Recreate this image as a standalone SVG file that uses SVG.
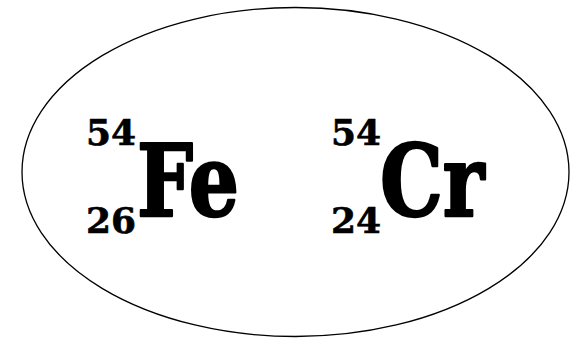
<svg xmlns="http://www.w3.org/2000/svg" width="570" height="338" viewBox="0 0 570 338">
<style>
.sym{font-family:"DejaVu Serif","Liberation Serif",serif;font-weight:bold;font-size:100px;fill:#000;stroke:#000;stroke-width:2.5;stroke-linejoin:round}
.num{font-family:"DejaVu Serif","Liberation Serif",serif;font-weight:bold;font-size:36px;fill:#000;stroke:#000;stroke-width:0.6}
</style>
<rect width="570" height="338" fill="#fff"/>
<ellipse cx="295.5" cy="172" rx="273.5" ry="164.5" fill="none" stroke="#000" stroke-width="1.3"/>
<g id="fe">
<text class="num" x="86" y="145">54</text>
<text class="num" x="86" y="233">26</text>
<text class="sym" transform="translate(137,216) scale(0.79,1)">Fe</text>
</g>
<g id="cr">
<text class="num" x="331" y="145">54</text>
<text class="num" x="331" y="233">24</text>
<text class="sym" transform="translate(380,216) scale(0.79,1)">Cr</text>
</g>
</svg>
